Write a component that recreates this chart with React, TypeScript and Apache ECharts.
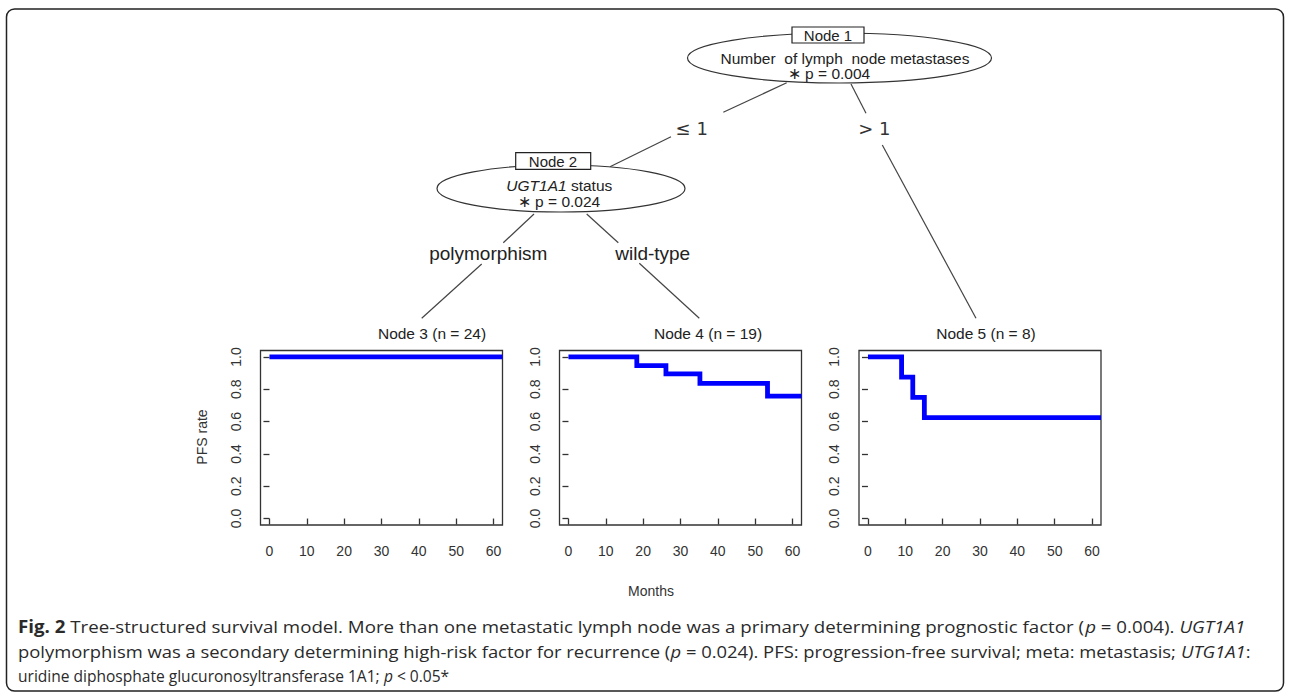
import React, { useEffect, useRef } from "react";
import * as echarts from "echarts";

// ---- data ----
const monthTicks = [0, 10, 20, 30, 40, 50, 60];
const rateTicks = [0, 0.2, 0.4, 0.6, 0.8, 1.0];
const monthRange = [-2.4, 62.4];
const rateRange = [-0.04, 1.04];
const panelTitles = ["Node 3 (n = 24)", "Node 4 (n = 19)", "Node 5 (n = 8)"];
const node3Times = [0, 62.4];
const node3Rates = [1, 1];
const node4Times = [0, 18.3, 26.1, 35.2, 53.3, 62.4];
const node4Rates = [1, 0.947, 0.895, 0.836, 0.758, 0.758];
const node5Times = [0, 9.0, 12.0, 15.1, 62.4];
const node5Rates = [1, 0.875, 0.75, 0.625, 0.625];
const nodeBoxLabels = ["Node 1", "Node 2"];
const splitPValues = ["0.004", "0.024"];
const edgeLabels = ["≤ 1", "> 1", "polymorphism", "wild-type"];
const yAxisTitle = "PFS rate";
const xAxisTitle = "Months";
const captionLines: [string, string][][] = [
  [
    ["b", "Fig. 2"],
    ["n", " Tree-structured survival model. More than one metastatic lymph node was a primary determining prognostic factor ("],
    ["i", "p"],
    ["n", " = 0.004). "],
    ["i", "UGT1A1"],
  ],
  [
    ["n", "polymorphism was a secondary determining high-risk factor for recurrence ("],
    ["i", "p"],
    ["n", " = 0.024). PFS: progression-free survival; meta: metastasis; "],
    ["i", "UTG1A1"],
    ["n", ":"],
  ],
  [
    ["n", "uridine diphosphate glucuronosyltransferase 1A1; "],
    ["i", "p"],
    ["n", " < 0.05*"],
  ],
];

const RF = '"Liberation Sans", Arial, Helvetica, sans-serif';
const CAP_FAMILY = '"Open Sans", sans-serif';
const CAP_SIZE = 17;
const CAP_COLOR = "#2a2a2a";

type Piece = [string, string];

export default function App() {
  const ref = useRef<HTMLDivElement>(null);
  useEffect(() => {
    const el = ref.current!;
    const chart = echarts.init(el, undefined, { renderer: "svg" });

    const panels = [
      { t: node3Times, r: node3Rates },
      { t: node4Times, r: node4Rates },
      { t: node5Times, r: node5Rates },
    ];
    const gridLefts = [260.5, 559.5, 859];
    const grids = gridLefts.map((l) => ({
      left: l,
      top: 350.5,
      width: 242,
      height: 174.5,
      show: true,
      borderColor: "#333",
      borderWidth: 1.3,
      backgroundColor: "transparent",
    }));
    const xAxes = gridLefts.map((_, i) => ({
      gridIndex: i,
      type: "value",
      min: monthRange[0],
      max: monthRange[1],
      axisLine: { show: false },
      splitLine: { show: false },
      axisTick: { show: true, inside: false, length: 6, customValues: monthTicks, lineStyle: { color: "#333", width: 1.3 } },
      axisLabel: { customValues: monthTicks, margin: 19, fontSize: 14, color: "#333", fontFamily: RF },
    }));
    const yAxes = gridLefts.map((_, i) => ({
      gridIndex: i,
      type: "value",
      min: rateRange[0],
      max: rateRange[1],
      axisLine: { show: false },
      splitLine: { show: false },
      axisTick: { show: true, inside: false, length: 6, customValues: rateTicks, lineStyle: { color: "#333", width: 1.3 } },
      axisLabel: {
        customValues: rateTicks,
        rotate: 90,
        margin: 18,
        fontSize: 14,
        color: "#333",
        fontFamily: RF,
        formatter: (v: number) => v.toFixed(1),
      },
    }));
    const series = panels.map((p, i) => ({
      type: "line",
      xAxisIndex: i,
      yAxisIndex: i,
      step: "end",
      symbol: "none",
      lineStyle: { color: "#0000ff", width: 4.8, cap: "butt", join: "miter" },
      data: p.t.map((t, k) => [t, p.r[k]]),
    }));

    // caption: condensed to fit measured line ends
    const ctx = document.createElement("canvas").getContext("2d")!;
    const fontFor = (k: string) =>
      `${k === "i" ? "italic " : ""}${k === "b" ? "bold " : ""}${CAP_SIZE}px ${CAP_FAMILY}`;
    const lineNatural = (segs: Piece[]) =>
      segs.reduce((s, [k, t]) => {
        ctx.font = fontFor(k);
        return s + ctx.measureText(t).width;
      }, 0);
    const capLeft = 18;
    const lineRight = [1245, 1250, 449];
    const capYs = [626, 651, 676];
    const rich = {
      n: { fontSize: CAP_SIZE, fontFamily: CAP_FAMILY, fill: CAP_COLOR },
      b: { fontSize: CAP_SIZE, fontFamily: CAP_FAMILY, fontWeight: "bold", fill: CAP_COLOR },
      i: { fontSize: CAP_SIZE, fontFamily: CAP_FAMILY, fontStyle: "italic", fill: CAP_COLOR },
    };
    const captionEls = captionLines.map((segs, i) => ({
      type: "text",
      x: capLeft,
      y: capYs[i],
      scaleX: (lineRight[i] - capLeft) / lineNatural(segs),
      style: {
        text: segs.map(([k, t]) => `{${k}|${t}}`).join(""),
        rich,
        fontSize: CAP_SIZE,
        fontFamily: CAP_FAMILY,
        fill: CAP_COLOR,
        align: "left",
        verticalAlign: "middle",
        textAlign: "left",
        textVerticalAlign: "middle",
      },
    }));

    const txt = (x: number, y: number, text: string, size: number, extra: any = {}) => ({
      type: "text",
      x,
      y,
      style: {
        text,
        fontSize: size,
        fontFamily: RF,
        fill: "#222",
        align: "center",
        verticalAlign: "middle",
        textAlign: "center",
        textVerticalAlign: "middle",
        ...extra,
      },
    });
    const seg = (x1: number, y1: number, x2: number, y2: number) => ({
      type: "line",
      shape: { x1, y1, x2, y2 },
      style: { stroke: "#444", lineWidth: 1.2 },
    });

    const graphic: any[] = [
      {
        type: "rect",
        shape: { x: 6.5, y: 9, width: 1277, height: 682, r: 8 },
        style: { fill: "none", stroke: "#222", lineWidth: 1.5 },
      },
      // edges
      seg(786.7, 82.7, 723.3, 112.3),
      seg(671, 136.7, 610, 166.7),
      seg(851, 84, 866, 113.3),
      seg(882.3, 145, 976, 318.3),
      seg(534, 214, 503.3, 242.7),
      seg(481.7, 264, 421.7, 318.3),
      seg(586.7, 214, 618.3, 242.7),
      seg(639.3, 263.3, 699.3, 318.3),
      // node 1
      { type: "ellipse", shape: { cx: 839.5, cy: 58, rx: 152, ry: 25 }, style: { fill: "#fff", stroke: "#333", lineWidth: 1.2 } },
      { type: "rect", shape: { x: 792, y: 27, width: 72, height: 16 }, style: { fill: "#fff", stroke: "#222", lineWidth: 1.2 } },
      txt(828, 35.5, nodeBoxLabels[0], 15),
      txt(845, 58, "Number  of lymph  node metastases", 15.5),
      txt(829, 73.5, "∗ p = " + splitPValues[0], 15.5),
      // node 2
      { type: "ellipse", shape: { cx: 561, cy: 188.5, rx: 124, ry: 23.5 }, style: { fill: "#fff", stroke: "#333", lineWidth: 1.2 } },
      { type: "rect", shape: { x: 515.7, y: 152.7, width: 75, height: 16.6 }, style: { fill: "#fff", stroke: "#222", lineWidth: 1.2 } },
      txt(553, 161, nodeBoxLabels[1], 15),
      {
        type: "text",
        x: 559.3,
        y: 185,
        style: {
          text: "{i|UGT1A1} {n|status}",
          rich: {
            i: { fontSize: 15.5, fontFamily: RF, fontStyle: "italic", fill: "#222" },
            n: { fontSize: 15.5, fontFamily: RF, fill: "#222" },
          },
          fontSize: 15.5,
          fontFamily: RF,
          fill: "#222",
          align: "center",
          verticalAlign: "middle",
          textAlign: "center",
          textVerticalAlign: "middle",
        },
      },
      txt(559, 201.7, "∗ p = " + splitPValues[1], 15.5),
      // edge labels
      txt(691.7, 128.3, edgeLabels[0], 18, { fontFamily: '"DejaVu Sans", sans-serif', fill: "#333" }),
      txt(874.3, 128.3, edgeLabels[1], 18, { fontFamily: '"DejaVu Sans", sans-serif', fill: "#333" }),
      txt(488.3, 253.3, edgeLabels[2], 19),
      txt(652.7, 253.3, edgeLabels[3], 19),
      // panel titles
      txt(432, 333, panelTitles[0], 15.5),
      txt(708, 333, panelTitles[1], 15.5),
      txt(986, 333, panelTitles[2], 15.5),
      // axis titles
      { ...txt(201.7, 437, yAxisTitle, 14, { fill: "#333" }), rotation: Math.PI / 2 },
      txt(651, 591, xAxisTitle, 14, { fill: "#333" }),
      ...captionEls,
    ];

    chart.setOption({
      animation: false,
      backgroundColor: "#fff",
      grid: grids,
      xAxis: xAxes,
      yAxis: yAxes,
      series,
      graphic,
    } as any);
    return () => chart.dispose();
  }, []);
  return <div ref={ref} style={{ position: "absolute", left: 0, top: 0, width: 1290, height: 693 }} />;
}
